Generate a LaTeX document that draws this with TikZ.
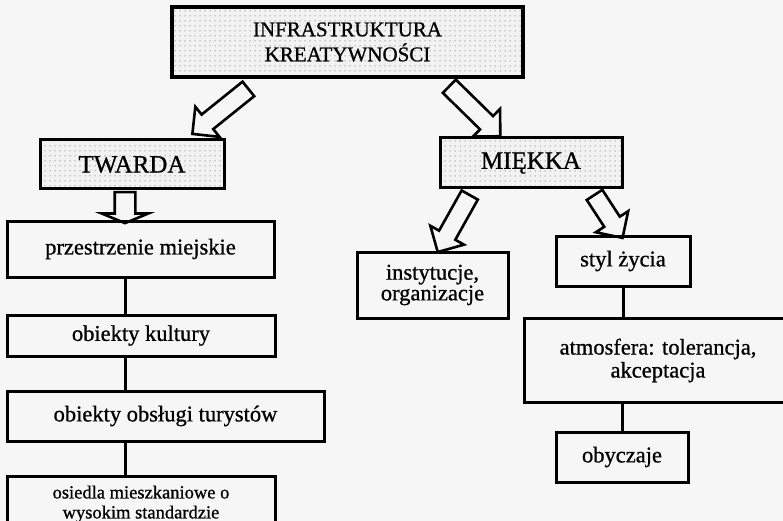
\documentclass[tikz,border=0pt]{standalone}
\usepackage{fontspec}
\setmainfont{Liberation Serif}[FakeBold=0.8]
\usetikzlibrary{positioning,calc,shapes.arrows,patterns.meta}

\begin{document}
\begin{tikzpicture}[x=1pt, y=-1pt, line width=3pt,
  box/.style = {draw, inner sep=0pt, align=center, font=\fontsize{22.5}{21}\selectfont},
  dotbox/.style = {box, preaction={fill=gray!10}, pattern={Dots[distance=5pt,radius=0.5pt]}, pattern color=gray!55!black},
  hollow/.style = {draw, single arrow, inner xsep=0pt, inner ysep=8pt, single arrow head extend=10pt, single arrow tip angle=90, line width=2.6pt}]
\fill[gray!7] (0,0) rectangle (783,521);
\useasboundingbox (0,0) rectangle (783,521);

% top and the two kinds
\node[dotbox, minimum width=351pt, minimum height=70pt, line width=4.3pt, font=\fontsize{21}{25}\selectfont] (infra) at (347.5,42) {INFRASTRUKTURA\\KREATYWNOŚCI};
\node[dotbox, minimum width=184pt, minimum height=49pt, font=\fontsize{25}{30}\selectfont] (twarda) at (132,164.5) {TWARDA};
\node[dotbox, minimum width=182pt, minimum height=50pt, font=\fontsize{25}{30}\selectfont] (miekka) at (531,163) {MIĘKKA};

% left column
\node[box, minimum width=267pt, minimum height=56pt] (przestrzenie) at (140.5,249) {przestrzenie miejskie};
\node[box, minimum width=268pt, minimum height=41pt, below right=35pt and 0pt of przestrzenie.south west] (kultura) {obiekty kultury};
\node[box, minimum width=317pt, minimum height=50pt, below right=32pt and 0pt of kultura.south west] (turysci) {obiekty obsługi turystów};
\node[box, minimum width=268pt, minimum height=56pt, below right=32pt and 0pt of turysci.south west, font=\fontsize{18.5}{20}\selectfont] (osiedla) {osiedla mieszkaniowe o\\wysokim standardzie};

% right side
\node[box, minimum width=151pt, minimum height=66pt, font=\fontsize{22.5}{19.5}\selectfont] (instytucje) at (432.5,285) {instytucje,\\organizacje};
\node[box, minimum width=134pt, minimum height=50pt] (styl) at (623,261) {styl życia};
\node[box, minimum width=280pt, minimum height=84pt, anchor=north west, font=\fontsize{22.5}{23}\selectfont] (atmosfera) at (523,317) {\hspace*{-13pt}atmosfera: tolerancja,\\\hspace*{-13pt}akceptacja};
\node[box, minimum width=132pt, minimum height=50pt] (obyczaje) at (622,457) {obyczaje};

% plain links
\coordinate (lin) at (125,0);
\draw (przestrzenie.south -| lin) -- (kultura.north -| lin);
\draw (kultura.south -| lin) -- (turysci.north -| lin);
\draw (turysci.south -| lin) -- (osiedla.north -| lin);
\draw (styl.south) -- (styl.south |- atmosfera.north);
\draw (obyczaje.north |- atmosfera.south) -- (obyczaje.north);

% hollow arrows
\coordinate (a1) at (252,86);  \coordinate (b1) at (196,131);
\coordinate (a2) at (446,83);  \coordinate (b2) at (497,133);
\coordinate (a3) at (472,191); \coordinate (b3) at (440,248);
\coordinate (a4) at (592,191); \coordinate (b4) at (620,234);
\coordinate (a5) at (125,190); \coordinate (b5) at (125,221);
\path let \p1=($(b1)-(a1)$), \n1={veclen(\x1,\y1)} in (a1) -- node[hollow, sloped, allow upside down, minimum height=\n1] (arr1) {} (b1);
\path let \p1=($(b2)-(a2)$), \n1={veclen(\x1,\y1)} in (a2) -- node[hollow, sloped, allow upside down, minimum height=\n1] (arr2) {} (b2);
\path let \p1=($(b3)-(a3)$), \n1={veclen(\x1,\y1)} in (a3) -- node[hollow, sloped, allow upside down, minimum height=\n1] (arr3) {} (b3);
\path let \p1=($(b4)-(a4)$), \n1={veclen(\x1,\y1)} in (a4) -- node[hollow, sloped, allow upside down, minimum height=\n1] (arr4) {} (b4);
\path let \p1=($(b5)-(a5)$), \n1={veclen(\x1,\y1)} in (a5) -- node[hollow, sloped, allow upside down, minimum height=\n1, inner ysep=9pt, single arrow head extend=13pt, single arrow tip angle=135] (arr5) {} (b5);
\end{tikzpicture}
\end{document}
